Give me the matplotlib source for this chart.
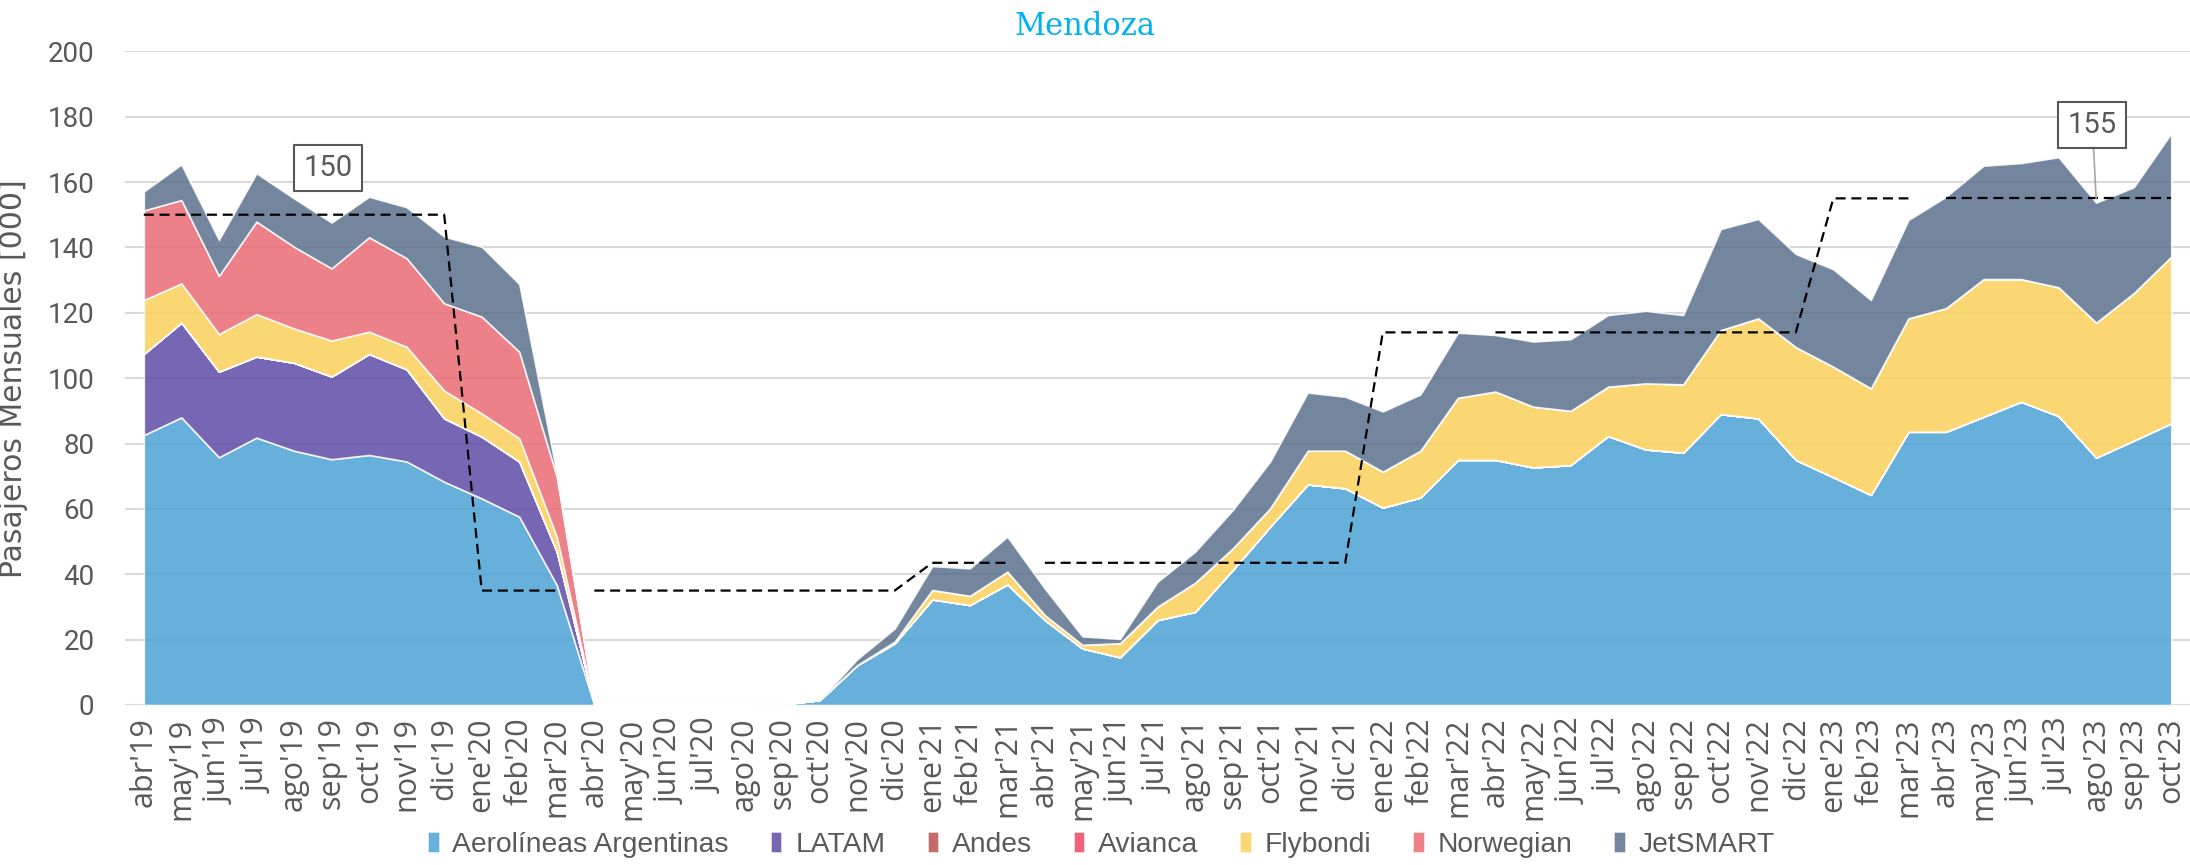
import numpy as np
import matplotlib
matplotlib.use('Agg')
import matplotlib.pyplot as plt
from matplotlib import font_manager

meses = ["abr'19", "may'19", "jun'19", "jul'19", "ago'19", "sep'19", "oct'19", "nov'19", "dic'19",
         "ene'20", "feb'20", "mar'20", "abr'20", "may'20", "jun'20", "jul'20", "ago'20", "sep'20",
         "oct'20", "nov'20", "dic'20",
         "ene'21", "feb'21", "mar'21", "abr'21", "may'21", "jun'21", "jul'21", "ago'21", "sep'21",
         "oct'21", "nov'21", "dic'21",
         "ene'22", "feb'22", "mar'22", "abr'22", "may'22", "jun'22", "jul'22", "ago'22", "sep'22",
         "oct'22", "nov'22", "dic'22",
         "ene'23", "feb'23", "mar'23", "abr'23", "may'23", "jun'23", "jul'23", "ago'23", "sep'23",
         "oct'23"]

# pasajeros mensuales [miles]
aerolineas = [82.6, 88.0, 75.8, 81.8, 77.8, 75.2, 76.5, 74.5, 68.3,
              63.2, 57.6, 36.7, 0, 0, 0, 0, 0, 0.2, 1.5, 12.2, 18.9,
              32.3, 30.6, 36.9, 26.0, 17.3, 14.6, 26.0, 28.5, 41.3, 54.6, 67.5, 66.3,
              60.4, 63.5, 75.0, 75.0, 72.7, 73.4, 82.3, 78.2, 77.2, 89.0, 87.7, 75.0,
              69.7, 64.3, 83.6, 83.6, 88.2, 92.8, 88.4, 75.7, 80.9, 86.2]
latam = [24.8, 29.0, 26.2, 24.8, 26.9, 25.3, 30.9, 28.2, 19.4,
         18.9, 16.9, 10.2] + [0] * 43
andes = [0] * 55
avianca = [0] * 55
flybondi = [16.5, 12.0, 11.5, 13.0, 10.5, 11.0, 6.8, 6.9, 8.5,
            7.1, 7.1, 4.6, 0, 0, 0, 0, 0, 0, 0, 0, 0.5,
            2.9, 2.8, 3.9, 1.5, 1.1, 4.3, 4.1, 8.9, 6.6, 5.6, 10.3, 11.5,
            11.0, 14.3, 19.0, 20.9, 18.6, 16.6, 15.1, 20.2, 20.9, 25.7, 30.6, 34.5,
            33.8, 32.6, 34.7, 37.8, 42.1, 37.5, 39.4, 41.3, 45.1, 51.0]
norwegian = [27.4, 25.5, 17.8, 28.3, 25.0, 22.1, 28.9, 27.1, 26.7,
             29.6, 26.5, 18.4] + [0] * 43
jetsmart = [5.8, 10.9, 11.0, 14.8, 14.8, 14.0, 12.4, 15.6, 20.4,
            21.4, 20.7, 0.9, 0, 0, 0, 0, 0, 0, 0, 1.8, 4.0,
            7.3, 8.4, 10.7, 8.1, 2.6, 1.3, 7.6, 9.5, 11.7, 14.3, 17.8, 16.5,
            18.4, 17.2, 19.9, 17.3, 19.9, 21.9, 21.9, 22.2, 21.2, 30.9, 30.4, 28.5,
            29.8, 27.0, 30.1, 34.1, 34.7, 35.5, 39.8, 36.7, 32.4, 37.7]

series = ['Aerolíneas Argentinas', 'LATAM', 'Andes', 'Avianca', 'Flybondi', 'Norwegian', 'JetSMART']
colores = ['#4CA2D5', '#5F4BA7', '#BA5151', '#ED4662', '#FBD15A', '#E96B75', '#5B718D']

# promedio mensual por año calendario
anios = ['19', '20', '21', '22', '23']
promedio = [150, 35, 43.5, 114, 155]


def pick_font(names, default='DejaVu Sans'):
    for n in names:
        try:
            font_manager.findfont(font_manager.FontProperties(family=n), fallback_to_default=False)
            return n
        except Exception:
            pass
    return default


narrow = pick_font(['Liberation Sans Narrow', 'Roboto'])
narrow_size = 22 if narrow == 'Liberation Sans Narrow' else 20
gris = '#595959'

fig = plt.figure(figsize=(21.9, 8.65), dpi=100)
ax = fig.add_axes([0.0571, 0.185, 0.9429, 0.7557])

x = np.arange(len(meses))
ax.stackplot(x, aerolineas, latam, andes, avianca, flybondi, norwegian, jetsmart,
             labels=series, colors=colores, alpha=0.85, edgecolor='white', linewidth=1.2, zorder=2)

linea = np.array([promedio[anios.index(m[-2:])] for m in meses])
for s in range(0, len(meses), 12):
    ax.plot(x[s:s + 12], linea[s:s + 12], color='black', lw=1.6, ls=(0, (4.5, 2.6)), zorder=5)

box = dict(boxstyle='square,pad=0.32', fc='white', ec=gris, lw=1.5)
ax.text(4.9, 164.3, '150', ha='center', va='center', fontsize=narrow_size + 1, family=narrow,
        color=gris, bbox=box, zorder=6)
ax.annotate('155', xy=(52, 155), xytext=(51.9, 177.5), ha='center', va='center',
            fontsize=narrow_size + 1, family=narrow, color=gris, bbox=box, zorder=6,
            arrowprops=dict(arrowstyle='-', color='#A6A6A6', lw=1.2, shrinkA=0, shrinkB=0))

ax.set_xlim(-0.5, len(meses) - 0.5)
ax.set_ylim(0, 200)
ax.set_yticks(range(0, 201, 20))
ax.set_xticks(x)
ax.set_xticklabels(meses, rotation=90, fontsize=22, family='Open Sans', color=gris)
for t in ax.get_yticklabels():
    t.set_family(narrow)
    t.set_fontsize(narrow_size)
    t.set_color(gris)
ax.tick_params(axis='both', length=0)
ax.tick_params(axis='x', pad=9)
ax.tick_params(axis='y', pad=22)
ax.yaxis.grid(True, color='#D9D9D9', lw=1.5)
ax.set_axisbelow(True)
for sp in ax.spines.values():
    sp.set_visible(False)

ax.set_ylabel('Pasajeros Mensuales [000]', fontsize=21.5, color=gris)
ax.yaxis.set_label_coords(-0.047, 0.5)

fig.text(0.4954, 0.9688, 'Mendoza', ha='center', va='center', fontsize=22,
         family='DejaVu Serif', color='#00B0F0')

fig.legend(*ax.get_legend_handles_labels(), loc='center', bbox_to_anchor=(0.503, 0.0231),
           ncol=7, frameon=False, handlelength=0.4, handleheight=0.75,
           handletextpad=0.45, columnspacing=1.5, labelcolor=gris,
           prop={'family': 'Liberation Sans', 'size': 20.3})

fig.savefig('out.png', dpi=100)
